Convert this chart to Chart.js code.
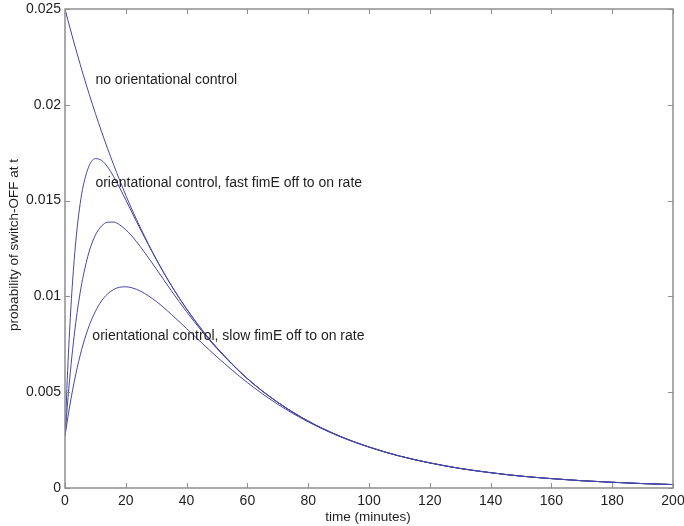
<!DOCTYPE html>
<html><head><meta charset="utf-8">
<script src="https://cdn.jsdelivr.net/npm/chart.js@4/dist/chart.umd.min.js"></script>
<style>html,body{margin:0;padding:0;background:#fff}</style>
</head><body>
<canvas id="c" width="684" height="526"></canvas>
<script>
const timeMinutes = [0,1,2,3,4,5,6,8,10,12,14,16,18,20,22,25,30,35,40,45,50,60,70,80,90,100,110,120,130,140,150,160,170,180,190,200];
const probNoControl = [0.025,0.02439,0.02380,0.02322,0.02266,0.02211,0.02157,0.02053,0.01955,0.01861,0.01772,0.01687,0.01606,0.01528,0.01455,0.01352,0.01195,0.01057,0.00935,0.00827,0.00731,0.00571,0.00447,0.00349,0.00273,0.00214,0.00167,0.00131,0.00102,0.00080,0.00062,0.00049,0.00038,0.00030,0.00023,0.00018];
const probFast = [0.0027,0.00658,0.00957,0.01186,0.01358,0.01485,0.01577,0.01684,0.01719,0.01710,0.01676,0.01625,0.01566,0.01504,0.01439,0.01344,0.01193,0.01056,0.00934,0.00826,0.00731,0.00571,0.00447,0.00349,0.00273,0.00214,0.00167,0.00131,0.00102,0.00080,0.00062,0.00049,0.00038,0.00030,0.00023,0.00018];
const probMedium = [0.0027,0.00473,0.00645,0.00792,0.00917,0.01021,0.01107,0.01237,0.01320,0.01367,0.01387,0.01388,0.01373,0.01348,0.01315,0.01255,0.01144,0.01029,0.00920,0.00819,0.00727,0.00570,0.00447,0.00349,0.00273,0.00214,0.00167,0.00131,0.00102,0.00080,0.00062,0.00049,0.00038,0.00030,0.00023,0.00018];
const probSlow = [0.0027,0.00375,0.00468,0.00552,0.00627,0.00693,0.00752,0.00849,0.00922,0.00976,0.01013,0.01036,0.01048,0.01050,0.01045,0.01026,0.00974,0.00906,0.00832,0.00757,0.00684,0.00550,0.00437,0.00345,0.00271,0.00213,0.00167,0.00131,0.00102,0.00080,0.00062,0.00049,0.00038,0.00030,0.00023,0.00018];
const xTickValues = [0,20,40,60,80,100,120,140,160,180,200];
const xTickLabels = ['0','20','40','60','80','100','120','140','160','180','200'];
const yTickValues = [0,0.005,0.01,0.015,0.02,0.025];
const yTickLabels = ['0','0.005','0.01','0.015','0.02','0.025'];
const annotations = [
  {text:'no orientational control', t:10, p:0.0213},
  {text:'orientational control, fast fimE off to on rate', t:10, p:0.0159},
  {text:'orientational control, slow fimE off to on rate', t:9, p:0.0079}
];
const xTitle = 'time (minutes)';
const yTitle = 'probability of switch-OFF at t';

const FONT = "'Liberation Sans', Arial, Helvetica, sans-serif";
const LINE = 'rgb(70,70,165)';
const AXIS = '#8e8e8e';
const TEXT = '#1e1e1e';

function series(vals){ return timeMinutes.map((t,i)=>({x:t,y:vals[i]})); }
const ds = (vals)=>({data:series(vals), showLine:true, borderColor:LINE, borderWidth:1, pointRadius:0, cubicInterpolationMode:'monotone', fill:false});

const framePlugin = {
  id:'frame',
  afterDraw(chart){
    const {ctx, chartArea:{left,right,top,bottom}, scales:{x,y}} = chart;
    ctx.save();
    ctx.strokeStyle = AXIS; ctx.lineWidth = 1.5;
    ctx.strokeRect(left, top, right-left, bottom-top);
    ctx.lineWidth = 1;
    ctx.beginPath();
    xTickValues.forEach(v=>{ const px=Math.round(x.getPixelForValue(v))+0.5;
      ctx.moveTo(px,bottom); ctx.lineTo(px,bottom-5); ctx.moveTo(px,top); ctx.lineTo(px,top+5); });
    yTickValues.forEach(v=>{ const py=Math.round(y.getPixelForValue(v))+0.5;
      ctx.moveTo(left,py); ctx.lineTo(left+5,py); ctx.moveTo(right,py); ctx.lineTo(right-5,py); });
    ctx.stroke();
    ctx.fillStyle = TEXT; ctx.font = '14px '+FONT; ctx.textBaseline='middle'; ctx.textAlign='left';
    annotations.forEach(a=>ctx.fillText(a.text, x.getPixelForValue(a.t), y.getPixelForValue(a.p)));
    ctx.font = '13.5px '+FONT;
    ctx.textAlign='center';
    ctx.fillText(xTitle, 368, 517);
    ctx.translate(14,245); ctx.rotate(-Math.PI/2);
    ctx.fillText(yTitle, 0, 0);
    ctx.restore();
  }
};

new Chart(document.getElementById('c'), {
  type:'scatter',
  data:{datasets:[ds(probNoControl), ds(probFast), ds(probMedium), ds(probSlow)]},
  options:{
    responsive:false, animation:false,
    layout:{padding:{top:9,right:11,left:0,bottom:0}},
    plugins:{legend:{display:false}, tooltip:{enabled:false}},
    scales:{
      x:{type:'linear', min:0, max:200,
        afterBuildTicks:s=>{s.ticks = xTickValues.map(v=>({value:v}));},
        ticks:{callback:(v,i)=>xTickLabels[i], color:TEXT, font:{family:FONT,size:14}, padding:5, maxRotation:0, autoSkip:false},
        grid:{display:false, drawTicks:false}, border:{display:false},
        afterFit:s=>{s.height=38; s.paddingRight=0; s.paddingLeft=0;}},
      y:{type:'linear', min:0, max:0.025,
        afterBuildTicks:s=>{s.ticks = yTickValues.map(v=>({value:v}));},
        ticks:{callback:(v,i)=>yTickLabels[i], color:TEXT, font:{family:FONT,size:14}, padding:4, autoSkip:false},
        grid:{display:false, drawTicks:false}, border:{display:false},
        afterFit:s=>{s.width=65; s.paddingTop=0; s.paddingBottom=0;}}
    }
  },
  plugins:[framePlugin]
});
</script>
</body></html>
